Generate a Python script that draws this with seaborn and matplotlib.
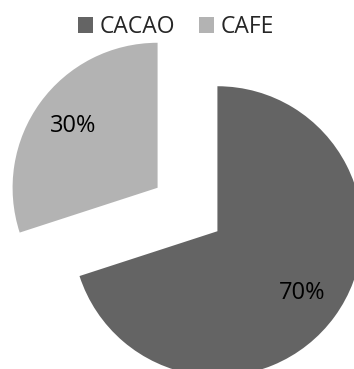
import matplotlib
matplotlib.use("Agg")
import matplotlib.pyplot as plt
import seaborn as sns

sns.set_theme(style="white")
plt.rcParams['font.family'] = ['Open Sans', 'DejaVu Sans']

categories = ["CACAO", "CAFE"]
values = [70, 30]
colors = ["#646464", "#b3b3b3"]

W, H = 354, 369
R = 145.0
cx, cy = 187.5, 209.5

fig = plt.figure(figsize=(W / 100, H / 100), dpi=100)
ax = fig.add_axes([0, 0, 1, 1])
wedges, texts, autotexts = ax.pie(
    values, colors=colors, startangle=90, counterclock=False,
    explode=[0.255, 0.255], radius=1, autopct='%1.0f%%', pctdistance=0.72,
    wedgeprops=dict(linewidth=0), textprops=dict(fontsize=17, color='black'))
ax.set_aspect('auto')
ax.set_xlim(-cx / R, (W - cx) / R)
ax.set_ylim(-(H - cy) / R, cy / R)
ax.axis('off')

fig.legend(wedges, categories, loc='center', bbox_to_anchor=(176 / W, 1 - 27 / H),
           ncol=2, frameon=False, fontsize=16.5, handlelength=0.66, handleheight=0.66,
           handletextpad=0.3, columnspacing=1.0, borderpad=0, borderaxespad=0)

fig.savefig("out.png", dpi=100)
